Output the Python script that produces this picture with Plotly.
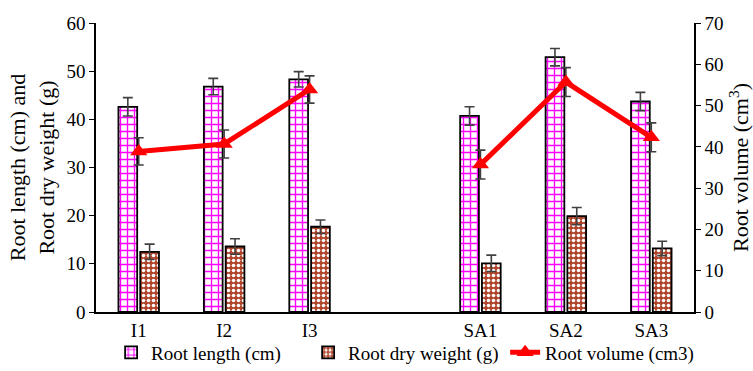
import plotly.graph_objects as go

# Treatments (a blank slot separates the two groups)
categories = ["I1", "I2", "I3", " ", "SA1", "SA2", "SA3"]

root_length = [42.6, 46.8, 48.3, None, 40.7, 52.9, 43.7]
root_length_err = [1.9, 1.7, 1.6, None, 1.9, 1.8, 1.9]

root_dry_weight = [12.5, 13.6, 17.7, None, 10.1, 19.9, 13.2]
root_dry_weight_err = [1.6, 1.6, 1.4, None, 1.7, 1.8, 1.5]

root_volume = [38.9, 40.7, 53.9, None, 35.7, 55.7, 42.3]
root_volume_err = [3.3, 3.4, 3.3, None, 3.5, 3.5, 3.5]

left_ticks = [0, 10, 20, 30, 40, 50, 60]
right_ticks = [0, 10, 20, 30, 40, 50, 60, 70]

FONT = "Liberation Serif, Times New Roman, serif"
ERR_COLOR = "#404040"

fig = go.Figure()

fig.add_trace(go.Bar(
    x=categories, y=root_length, name="Root length (cm)",
    marker=dict(
        color="white",
        line=dict(color="black", width=1.8),
        pattern=dict(shape="+", fgcolor="#ff00ff", bgcolor="white",
                     fgopacity=1, size=7, solidity=0.35),
    ),
    error_y=dict(type="data", array=root_length_err, color=ERR_COLOR,
                 thickness=1.6, width=5),
))

fig.add_trace(go.Bar(
    x=categories, y=root_dry_weight, name="Root dry weight (g)",
    marker=dict(
        color="#b5492e",
        line=dict(color="black", width=1.8),
        pattern=dict(shape=".", fgcolor="white", bgcolor="#b0452c",
                     fgopacity=1, size=5, solidity=0.4),
    ),
    error_y=dict(type="data", array=root_dry_weight_err, color=ERR_COLOR,
                 thickness=1.6, width=5),
))

fig.add_trace(go.Scatter(
    x=categories, y=root_volume, name="Root volume (cm3)", yaxis="y2",
    mode="lines+markers", connectgaps=False,
    line=dict(color="#ff0000", width=5),
    marker=dict(symbol="triangle-up", size=15, color="#ff0000"),
    error_y=dict(type="data", array=root_volume_err, color=ERR_COLOR,
                 thickness=1.6, width=5),
))

fig.update_layout(
    width=753, height=371,
    margin=dict(l=96, r=59, t=23, b=59, autoexpand=False),
    paper_bgcolor="white", plot_bgcolor="white",
    font=dict(family=FONT, size=19, color="black"),
    barmode="group", bargap=0.49, bargroupgap=0.14,
    showlegend=True,
    legend=dict(orientation="h", xref="container", x=0.54, xanchor="center",
                yref="container", y=0.05, yanchor="middle",
                font=dict(size=19), itemwidth=30,
                entrywidth=152, entrywidthmode="pixels",
                bgcolor="rgba(0,0,0,0)"),
    xaxis=dict(
        type="category", categoryorder="array", categoryarray=categories,
        showline=True, linecolor="black", linewidth=1.5,
        ticks="", showgrid=False, tickfont=dict(size=19),
    ),
    yaxis=dict(
        range=[0, 60], tickvals=left_ticks, showline=True, linecolor="black",
        linewidth=1.5, ticks="outside", ticklen=5, tickcolor="black",
        showgrid=False, zeroline=False, tickfont=dict(size=19),
        title=dict(text="Root length (cm) and<br>Root dry weight (g)",
                   font=dict(size=22), standoff=6),
    ),
    yaxis2=dict(
        range=[0, 70], tickvals=right_ticks, overlaying="y", side="right",
        showline=True, linecolor="black", linewidth=1.5,
        ticks="outside", ticklen=5, tickcolor="black",
        showgrid=False, zeroline=False, tickfont=dict(size=19),
        title=dict(text="Root volume (cm<sup>3</sup>)",
                   font=dict(size=22), standoff=12),
    ),
)

fig.write_html("out.html")
